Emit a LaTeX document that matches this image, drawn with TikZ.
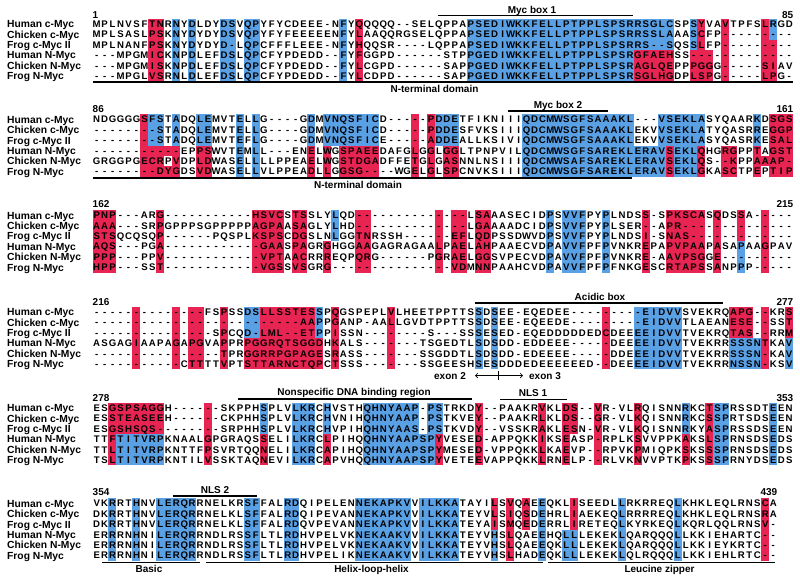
\documentclass[tikz,border=0pt]{standalone}
\usepackage{fontspec}
\setmainfont{Liberation Sans}
\usetikzlibrary{arrows.meta}
\definecolor{hb}{RGB}{90,160,228}
\definecolor{hr}{RGB}{232,36,82}
\newlength\cw
\setlength\cw{7.96pt}
\ExplSyntaxOn
\NewDocumentCommand\seqtxt{m}{\tl_map_inline:nn{#1}{\makebox[\cw][c]{##1}}}
\ExplSyntaxOff
\tikzset{
  seqn/.style={anchor=base west,inner sep=0pt,font=\fontsize{9.6}{10}\selectfont\bfseries},
  namen/.style={anchor=base west,inner sep=0pt,font=\fontsize{10.3}{12}\selectfont\bfseries},
  lab/.style={anchor=base,inner sep=0pt,font=\fontsize{10}{12}\selectfont\bfseries},
  numl/.style={anchor=base west,inner sep=0pt,font=\fontsize{10}{12}\selectfont\bfseries},
  numr/.style={anchor=base east,inner sep=0pt,font=\fontsize{10}{12}\selectfont\bfseries},
  dom/.style={line width=1.4pt},
}
\newcommand\hls[2]{\foreach \a/\b/\r/\s/\k in {#2}{\fill[\k] ({96.5+(\a-1.5)*7.96},{#1+(\r-1.5)*10.4}) rectangle ({96.5+(\b-0.5)*7.96},{#1+(\s-0.5)*10.4});}}
\newcommand\seqblock[8]{%
  \foreach \nm [count=\i] in {Human c-Myc,Chicken c-Myc,Frog c-Myc II,Human N-Myc,Chicken N-Myc,Frog N-Myc}
    {\node[namen] (#1n\i) at (7,{#2+(\i-1)*10.4+3.7}) {\nm};}
  \node[seqn] (#1s1) at (92.52,{#2+3.4}) {\seqtxt{#3}};
  \node[seqn] (#1s2) at (92.52,{#2+10.4+3.4}) {\seqtxt{#4}};
  \node[seqn] (#1s3) at (92.52,{#2+20.8+3.4}) {\seqtxt{#5}};
  \node[seqn] (#1s4) at (92.52,{#2+31.2+3.4}) {\seqtxt{#6}};
  \node[seqn] (#1s5) at (92.52,{#2+41.6+3.4}) {\seqtxt{#7}};
  \node[seqn] (#1s6) at (92.52,{#2+52.0+3.4}) {\seqtxt{#8}};
}
\begin{document}
\begin{tikzpicture}[x=1pt,y=-1pt]
\useasboundingbox (0,0) rectangle (800,579);
\fill[white] (0,0) rectangle (800,579);
% ---------------- block 1
\hls{24}{8/9/1/6/hr, 11/11/1/6/hb, 13/13/1/6/hb, 17/18/1/6/hb, 20/21/1/6/hb, 32/32/1/6/hb, 34/34/1/6/hr, 48/73/1/3/hb, 48/68/4/6/hb, 69/73/4/6/hr, 76/76/1/3/hb, 76/78/4/6/hr, 77/77/1/3/hr, 80/80/1/6/hr, 85/85/1/6/hr, 86/86/1/2/hb, 86/86/3/6/hr}
\seqblock{a}{24}
{MPLNVSFTNRNYDLDYDSVQPYFYCDEEE-NFYQQQQQ--SELQPPAPSEDIWKKFELLPTPPLSPSRRSGLCSPSYVAVTPFSLRGD}
{MPLSASLPSKNYDYDYDSVQPYFYFEEEEENFYLAAQQRGSELQPPAPSEDIWKKFELLPTPPLSPSRRSSLAAASCFP---------}
{MPLNANFPSKNYDYDYD-LQPCFFFLEEE-NFYHQQSR----LQPPAPSEDIWKKFELLPTPPLSPSRRS--SQSSLFP---------}
{---MPGMICKNPDLEFDSLQPCFYPDEDD--FYFGGPD------STPPGEDIWKKFELLPTPPLSPSRGFAEHSS-------------}
{---MPGMISKNPDLEFDSLQPCFYPDEDD--FYLCGPD------SAPPGEDIWKKFELLPTPPLSPSRAGLQEPPPGGG-----SIAV}
{---MPGLVSRNLDLEFDSLQPCFYPDEDD--FYLCDPD------SAPPGEDIWKKFELLPTPPLSPSRSGLHGDPLSPG-----LPG-}
\node[numl] (a1) at (92.5,18.1) {1};
\node[numr] (a85) at (793.4,18.1) {85};
\node[lab] (mb1) at (532,13.6) {Myc box 1};
\draw[dom] (438,15.6) -- (633,15.6);
\draw[dom] (93,82) -- (793.4,82);
\node[lab] (nt1) at (434.5,92.5) {N-terminal domain};
% ---------------- block 2
\hls{119.5}{7/9/4/6/hr, 7/7/1/3/hr, 8/9/1/3/hb, 10/10/4/4/hr, 10/10/6/6/hr, 11/11/1/3/hb, 11/11/4/6/hr, 14/15/1/3/hb, 14/15/4/6/hr, 19/19/1/6/hb, 21/21/1/6/hb, 28/28/1/3/hb, 28/28/4/6/hr, 30/30/1/3/hb, 30/30/4/6/hr, 31/36/1/3/hb, 32/36/4/6/hr, 41/41/1/6/hr, 43/43/1/6/hr, 44/46/1/3/hb, 45/46/4/6/hr, 55/68/1/6/hb, 72/77/1/3/hb, 69/72/4/6/hb, 73/73/4/6/hr, 74/76/4/6/hb, 77/77/4/6/hr, 80/81/4/6/hr, 84/84/4/6/hr, 85/85/5/5/hr, 86/88/4/6/hr, 84/84/1/3/hb, 86/88/1/3/hr}
\seqblock{b}{119.5}
{NDGGGGSFSTADQLEMVTELLG----GDMVNQSFICD-----PDDETFIKNIIIQDCMWSGFSAAAKL---VSEKLASYQAARKDSGS}
{--------STADQLEMVTELLG----GDMVNQSFICD-----PDDESFVKSIIIQDCMWSGFSAAAKLEKVVSEKLATYQASRREGGP}
{--------STADQLEMVTEFLG----GDMVNQSFICE-----ADDEALLKSIVIQDCMWSGFSAAAKLEKVVSEKLASYQASRKESAL}
{-----------EPPSWVTEMLL---ENELWGSPAEEDAFGLGGLGGLTPNPVILQDCMWSGFSAREKLERAVSEKLQHGRGPPTAGST}
{GRGGPGECRPVDPLDWASELLLLPPEAELWGSTDGADFFETGLGASNNLNSIIIQDCMWSAFSAREKLERAVSEKLQS--KPPAAAP-}
{--------DYGDSVDWASELLVLPPEADLLGGSG----WGELGLSPCNVKSIIIQDCMWSGFSAREKLERAVSEKLGKASCTPEPTIP}
\node[numl] (b86) at (92.5,112.1) {86};
\node[numr] (b161) at (793.4,112.1) {161};
\node[lab] (mb2) at (558,108.6) {Myc box 2};
\draw[dom] (508,110.8) -- (608,110.8);
\draw[dom] (93,178) -- (632,178);
\node[lab] (nt2) at (358,188.5) {N-terminal domain};
% ---------------- block 3
\hls{215.3}{1/3/1/6/hr, 9/9/1/6/hr, 21/24/1/6/hr, 26/27/1/6/hr, 30/30/4/6/hr, 31/31/1/3/hb, 34/35/1/6/hr, 44/44/1/6/hr, 46/47/1/6/hr, 49/50/1/6/hr, 58/58/1/6/hb, 60/62/1/6/hb, 65/65/1/6/hb, 70/70/1/6/hr, 73/77/1/6/hr, 79/79/1/6/hr, 82/82/1/3/hr, 82/82/4/6/hb, 85/85/1/6/hr}
\seqblock{c}{215.3}
{PNP---ARG-----------HSVCSTSSLYLQD--------------LSAAASECIDPSVVFPYPLNDSS-SPKSCASQDSSA-----}
{AAA---SRPGPPPSGPPPPPAGPAASAGLYLHD--------------LGAAAADCIDPSVVFPYPLSER--APR--------------}
{STSQCQSQP------PQSPLKSPSCDGSLNLGGTNRSSH------EFLQDPSSDWVDPSVVFPYPLNDSI-SNAS-------------}
{AQS---PGA------------GAASPAGRGHGGAAGAGRAGAALPAELAHPAAECVDPAVVFPFPVNKREPAPVPAAPASAPAAGPAV}
{PPP---PPV------------VPTAACRRREQPQRG------PGRAELGGSVPECVDPAVVFPFPVNKRE-AAVPSGGE---------}
{HPP---SST------------VGSSVSGRG---------------VDMNNPAAHCVDPAVVFPFPFNKGESCRTAPSSANPPP-----}
\node[numl] (c162) at (92.5,207.6) {162};
\node[numr] (c215) at (793.4,207.6) {215};
% ---------------- block 4
\hls{312}{6/6/1/6/hr, 11/11/1/6/hr, 13/14/1/6/hr, 17/17/1/6/hr, 20/21/1/3/hb, 22/28/1/3/hr, 20/29/4/6/hr, 29/29/1/3/hb, 31/31/1/6/hr, 38/38/1/6/hr, 49/49/1/6/hb, 51/51/1/6/hb, 65/65/1/6/hr, 69/74/1/6/hb, 81/83/1/3/hr, 81/84/4/6/hb, 85/85/1/6/hr, 88/88/1/3/hr, 88/88/4/6/hb}
\seqblock{d}{312}
{--------------FSPSSDSLLSSTESSPQGSPEPLVLHEETPPTTSSDSEE-EQEDEE---------EIDVVSVEKRQAPG--KRS}
{--------------------------AAPPGANP-AALLGVDTPPTTSSDSEE-EQEEDE---------EIDVVTLAEANESE--SST}
{---------------SPCQD-LML--ETPPISSN--------S---SSSESED-EQEDDDDDEDCDEEEEIDVVTVEKRQTAS--RRM}
{ASGAGIAAPAGAPGVAPPRPGGRQTSGGDHKALS-------TSGEDTLSDSDD-EDDEEE-----DEEEEIDVVTVEKRRSSSNTKAV}
{----------------TPRGGRRPGPAGESRASS-------SSGDDTLSDSDD-EDEEEE-----DDEEEIDVVTVEKRRSSSN-KAV}
{-----------CTTTTVPTSTTARNCTQPCTSSS-------SSGEESHSESDDDEDEEEEEED--DEEEEIDVVTVEKRRNSSN-KSV}
\node[numl] (d216) at (92.5,305) {216};
\node[numr] (d277) at (793.4,305) {277};
\node[lab] (acb) at (600,300.6) {Acidic box};
\draw[dom] (475,303) -- (723,303);
\node[lab] (ex2) at (450,379) {exon 2};
\node[lab] (ex3) at (545,379) {exon 3};
\coordinate (exl) at (475,375.5);
\coordinate (exr) at (523,375.5);
\coordinate (ext) at (498,371);
\coordinate (exb) at (498,380);
\draw[line width=0.6pt,{Straight Barb[length=2.5pt,width=5pt]}-{Straight Barb[length=2.5pt,width=5pt]}] (exl) -- (exr);
\draw[line width=0.6pt] (ext) -- (exb);
% ---------------- block 5
\hls{408}{3/9/1/3/hr, 3/3/4/6/hr, 4/9/4/6/hb, 15/15/1/6/hr, 22/22/1/3/hb, 22/22/4/6/hr, 26/28/1/6/hb, 30/30/1/3/hb, 30/30/4/6/hr, 35/41/1/6/hb, 43/44/1/3/hb, 42/43/4/6/hb, 44/44/4/6/hr, 49/49/1/6/hr, 57/57/1/6/hr, 60/60/1/6/hr, 61/61/1/3/hr, 64/64/1/6/hr, 69/69/1/6/hr, 75/75/1/3/hb, 75/75/4/6/hr, 78/78/1/6/hr, 79/80/1/6/hb, 86/86/1/6/hb}
\seqblock{e}{408}
{ESGSPSAGGH------SKPPHSPLVLKRCHVSTHQHNYAAP-PSTRKDY--PAAKRVKLDS--VR-VLRQISNNRKCTSPRSSDTEEN}
{ESSTEASEEH------CKPHHSPLVLKRCHVNIHQHNYAAP-PSTKVEY--PAAKRLKLDS--GR-VLKQISNNRKCSSPRTSDSEEN}
{ESGSHSQS--------SRPHHSPLVLKRCHVPIHQHNYAAS-PSTKVDY--VSSKRAKLESN-VR-VLKQISNNRKYASPRSSDSEEN}
{TTFTITVRPKNAALGPGRAQSSELILKRCLPIHQQHNYAAPSPYVESED-APPQKKIKSEASP-RPLKSVVPPKAKSLSPRNSDSEDS}
{TTLTITVRPKNTTFPSVRTQQNELILKRCAPIHQQHNYAAPSPYMESED-VPPQKKLKAEVP--RPVKPMIQPKSKSSSPRNSDSEDS}
{TSLTITVRPKNTILVSSKTAQNEVILKRCAPVHQQHNYAAPSPYVETEEVAPPQKKLRNELP--RLVKNVVPTKPKSSSPRNYDSEDS}
\node[numl] (e278) at (92.5,401) {278};
\node[numr] (e353) at (793.4,401) {353};
\node[lab] (nsb) at (354,395.6) {Nonspecific DNA binding region};
\draw[dom] (238,399) -- (472,399);
\node[lab] (nls1) at (533,396) {NLS 1};
\draw[dom] (500,399.5) -- (567,399.5);
% ---------------- block 6
\hls{503.5}{3/3/1/6/hb, 6/6/1/6/hb, 9/13/1/6/hb, 20/21/1/6/hb, 25/26/1/6/hb, 34/40/1/6/hb, 42/46/1/6/hb, 51/51/1/3/hr, 51/51/4/6/hb, 53/53/1/6/hr, 55/55/1/3/hr, 57/57/1/6/hb, 61/61/1/3/hr, 60/61/4/6/hb, 67/67/1/6/hb, 74/74/1/6/hb, 85/85/1/6/hr}
\seqblock{f}{503.5}
{VKRRTHNVLERQRRNELKRSFFALRDQIPELENNEKAPKVVILKKATAYILSVQAEEQKLISEEDLLRKRREQLKHKLEQLRNSCA}
{DKRRTHNVLERQRRNELKLSFFALRDQIPEVANNEKAPKVVILKKATEYVLSIQSDEHRLIAEKEQLRRRREQLKHKLEQLRNSRA}
{DKRRTHNVLERQRRNELKLSFFALRDQVPEVANNEKAPKVVILKKATEYAISMQEDERRLIRETEQLKYRKEQLKQRLQQLRNSV-}
{ERRRNHNILERQRRNDLRSSFLTLRDHVPELVKNEKAAKVVILKKATEYVHSLQAEEHQLLLEKEKLQARQQQLLKKIEHARTC--}
{ERRRNHNILERQRRNDLRSSFLTLRDHVPELVKNEKAAKVVILKKATEYVHSLQAEEQKLLLEKEKLQARQQQLLKKIEYKRTC--}
{ERRRNHNILERQRRNDLRSSFLTLRDHVPELIKNEKAAKVVILKKATEYVHSLHADEQKLLLEKEKLQLRQQQLLKKIEHLRTC--}
\node[numl] (f354) at (92.5,495) {354};
\node[numr] (f439) at (777.4,495) {439};
\node[lab] (nls2) at (215,493.6) {NLS 2};
\draw[dom] (173,496) -- (257,496);
\draw[dom] (102,562.3) -- (200,562.3);
\draw[dom] (206,562.3) -- (543,562.3);
\draw[dom] (548,562.3) -- (775,562.3);
\node[lab] (bas) at (149,572) {Basic};
\node[lab] (hlh) at (371.5,572) {Helix-loop-helix};
\node[lab] (lz) at (659.5,572) {Leucine zipper};
\end{tikzpicture}
\end{document}
